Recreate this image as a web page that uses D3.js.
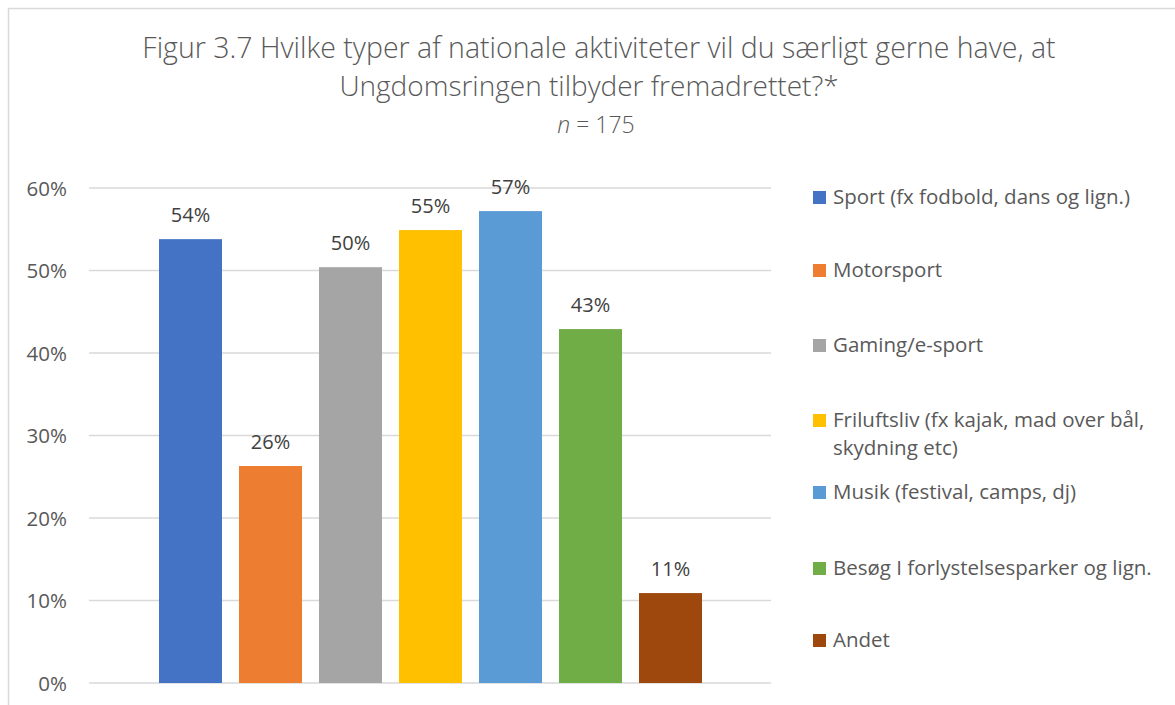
<!DOCTYPE html>
<html>
<head>
<meta charset="utf-8">
<script src="https://cdn.jsdelivr.net/npm/d3@7"></script>
<style>
  body { margin: 0; background: #fff; }
  text { font-family: "Open Sans", "Noto Sans", sans-serif; }
</style>
</head>
<body>
<div id="chart"></div>
<script>
// chart data
var categories = [
  "Sport (fx fodbold, dans og lign.)",
  "Motorsport",
  "Gaming/e-sport",
  "Friluftsliv (fx kajak, mad over bål, skydning etc)",
  "Musik (festival, camps, dj)",
  "Besøg I forlystelsesparker og lign.",
  "Andet"
];
var values = [0.538, 0.263, 0.504, 0.549, 0.572, 0.429, 0.109];
var labels = ["54%", "26%", "50%", "55%", "57%", "43%", "11%"];
var legendLines = [
  ["Sport (fx fodbold, dans og lign.)"],
  ["Motorsport"],
  ["Gaming/e-sport"],
  ["Friluftsliv (fx kajak, mad over bål,", "skydning etc)"],
  ["Musik (festival, camps, dj)"],
  ["Besøg I forlystelsesparker og lign."],
  ["Andet"]
];
var yTicks = [0, 0.1, 0.2, 0.3, 0.4, 0.5, 0.6];
var colors = ["#4472C4", "#ED7D31", "#A5A5A5", "#FFC000", "#5B9BD5", "#70AD47", "#9E480E"];

var svgWidth = 1175;
var svgHeight = 705;

var svg = d3.select("#chart")
  .append("svg")
  .attr("width", svgWidth)
  .attr("height", svgHeight);

// outer chart border
svg.append("rect")
  .attr("x", 8.5)
  .attr("y", 8.5)
  .attr("width", 1300)
  .attr("height", 1000)
  .attr("fill", "none")
  .attr("stroke", "#d9d9d9")
  .attr("stroke-width", 1.5);

// scales
var gridLeft = 89, gridRight = 771;
var xScale = d3.scaleBand()
  .domain(categories)
  .range([150.5, 710.5])
  .paddingInner(0.2125)
  .paddingOuter(0.10625);

var yScale = d3.scaleLinear()
  .domain([0, 0.6])
  .range([683, 188]);

// gridlines
svg.append("g")
  .selectAll("line")
  .data(yTicks)
  .enter()
  .append("line")
  .attr("x1", gridLeft)
  .attr("x2", gridRight)
  .attr("y1", d => yScale(d))
  .attr("y2", d => yScale(d))
  .attr("stroke", "#d9d9d9")
  .attr("stroke-width", 1.3);

// y axis labels
var leftAxis = d3.axisLeft(yScale)
  .tickValues(yTicks)
  .tickFormat(d3.format(".0%"))
  .tickSize(0)
  .tickPadding(0);

var yAxis = svg.append("g")
  .attr("transform", "translate(67, 0)")
  .call(leftAxis);
yAxis.select(".domain").remove();
yAxis.selectAll("text")
  .attr("fill", "#595959")
  .style("font-size", "20.5px")
  .attr("dy", "0.35em");

// bars
svg.append("g")
  .selectAll("rect")
  .data(categories)
  .enter()
  .append("rect")
  .attr("x", d => xScale(d))
  .attr("width", xScale.bandwidth())
  .attr("y", (d, i) => yScale(values[i]))
  .attr("height", (d, i) => yScale(0) - yScale(values[i]))
  .attr("fill", (d, i) => colors[i]);

// data labels
svg.append("g")
  .selectAll("text")
  .data(categories)
  .enter()
  .append("text")
  .attr("x", d => xScale(d) + xScale.bandwidth() / 2)
  .attr("y", (d, i) => yScale(values[i]) - 17)
  .attr("text-anchor", "middle")
  .attr("fill", "#404040")
  .style("font-size", "20px")
  .text((d, i) => labels[i]);

// title
var title = svg.append("g")
  .attr("fill", "#595959")
  .attr("text-anchor", "middle");
title.append("text")
  .attr("x", 599)
  .attr("y", 58)
  .style("font-size", "28.5px")
  .style("font-weight", 300)
  .text("Figur 3.7 Hvilke typer af nationale aktiviteter vil du særligt gerne have, at");
title.append("text")
  .attr("x", 589)
  .attr("y", 96)
  .style("font-size", "28px")
  .style("font-weight", 300)
  .text("Ungdomsringen tilbyder fremadrettet?*");
var nText = title.append("text")
  .attr("x", 596)
  .attr("y", 133)
  .style("font-size", "23px")
  .style("font-weight", 300);
nText.append("tspan").style("font-style", "italic").text("n");
nText.append("tspan").text(" = 175");

// legend
var legendY = [204, 277, 352, 427, 499, 575, 647];
var legend = svg.append("g")
  .selectAll("g")
  .data(categories)
  .enter()
  .append("g")
  .attr("transform", (d, i) => `translate(813, ${legendY[i]})`);

legend.append("rect")
  .attr("x", 0)
  .attr("y", -13)
  .attr("width", 13)
  .attr("height", 13)
  .attr("fill", (d, i) => colors[i]);

legend.append("text")
  .attr("x", 20)
  .attr("y", 0)
  .attr("fill", "#595959")
  .style("font-size", "20.5px")
  .each(function(d, i) {
    var t = d3.select(this);
    legendLines[i].forEach(function(line, j) {
      t.append("tspan")
        .attr("x", 20)
        .attr("y", j * 28)
        .text(line);
    });
  });
</script>
</body>
</html>
